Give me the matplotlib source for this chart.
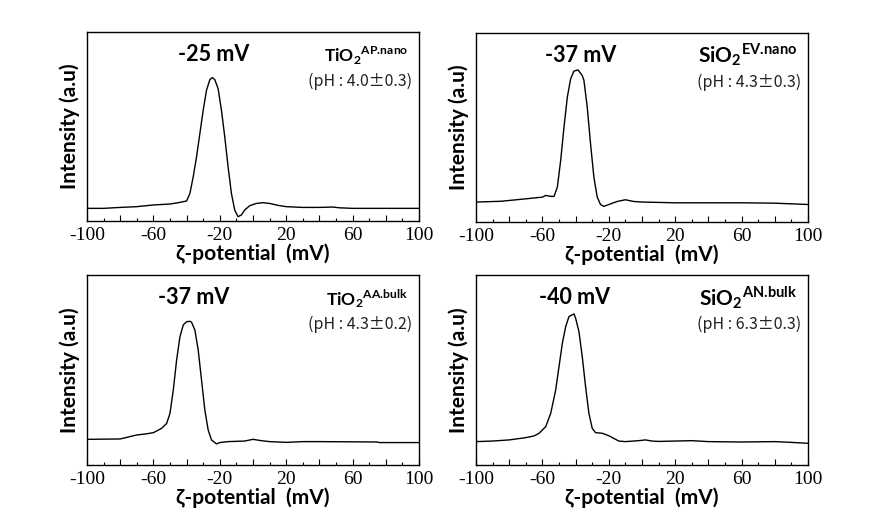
import matplotlib
matplotlib.use("Agg")
import matplotlib.pyplot as plt
from matplotlib.ticker import MultipleLocator, FixedFormatter, FixedLocator

plt.rcParams['axes.unicode_minus'] = False
plt.rcParams['mathtext.fontset'] = 'custom'
plt.rcParams['mathtext.rm'] = 'Lato'
plt.rcParams['mathtext.bf'] = 'Lato:bold'

# zeta potential distributions (intensity in arbitrary units)
x_tio2_nano = [-100, -90, -80, -70, -60, -50, -45, -40, -38, -36, -34, -32, -30, -28, -26,
               -24.5, -23, -21, -19, -17, -15, -13, -11, -9, -7, -5, -2, 2, 6, 10, 15, 20,
               30, 40, 48, 52, 60, 100]
y_tio2_nano = [6.7, 6.7, 7.2, 7.6, 8.5, 9.0, 9.7, 10.6, 14.6, 23.4, 34.0, 46.3, 58.6, 69.2, 74.8,
               75.9, 74.8, 70.0, 58.6, 44.5, 28.7, 14.6, 5.8, 2.3, 3.2, 5.8, 8.1, 9.3, 9.7, 9.3, 8.3, 7.6,
               7.2, 7.2, 7.4, 7.0, 6.7, 6.7]

x_sio2_nano = [-100, -85, -70, -60, -58, -55, -53, -51, -49, -47, -45, -43, -41, -38.5, -36, -35,
               -33, -31, -29, -27, -25, -23, -20, -15, -10, -5, 0, 20, 40, 60, 80, 100]
y_sio2_nano = [10.6, 11.0, 12.3, 13.2, 14.1, 13.6, 13.6, 18.5, 32.6, 50.3, 66.1, 75.8, 79.9, 80.5, 77.5, 75.0,
               60.8, 41.4, 23.8, 13.2, 9.3, 8.3, 9.3, 10.9, 11.8, 10.9, 10.6, 10.2, 10.2, 10.2, 10.0, 9.3]

x_tio2_bulk = [-100, -80, -70, -65, -60, -55, -52, -50, -48, -46, -44, -42, -40, -38, -37, -35,
               -33, -31, -29, -27, -25, -22, -20, -15, -5, 0, 5, 10, 20, 30, 40, 75, 76, 100]
y_tio2_bulk = [13.5, 13.7, 15.8, 16.3, 17.0, 19.3, 21.9, 27.2, 39.5, 55.3, 67.5, 73.7, 75.4, 75.6, 75.1, 71.0,
               60.5, 44.7, 28.9, 18.4, 13.2, 11.1, 11.8, 12.3, 12.6, 13.5, 12.8, 12.3, 11.9, 12.3, 12.3, 12.1, 11.8, 11.8]

x_sio2_bulk = [-100, -90, -80, -70, -65, -62, -58, -55, -52, -50, -48, -46, -44, -41, -40, -38,
               -36, -34, -32, -30, -28, -24, -20, -17, -14, -10, -2, 2, 6, 10, 30, 40, 60, 80, 90, 100]
y_sio2_bulk = [12.3, 12.6, 13.2, 14.4, 15.3, 16.7, 20.2, 27.2, 39.5, 51.8, 64.0, 72.8, 78.1, 79.5, 77.2, 70.2,
               57.0, 41.2, 27.2, 19.3, 17.0, 16.7, 15.4, 14.0, 12.6, 12.3, 12.8, 13.2, 12.6, 12.4, 12.8, 12.3, 12.1, 12.3, 11.9, 11.4]

peak_labels = ['-25 mV', '-37 mV', '-37 mV', '-40 mV']
peak_pos = [-24, -37, -36, -40.5]
samples = [r'$\mathbf{TiO_2}^{\mathbf{AP.\!nano}}$', r'$\mathbf{SiO_2}^{\mathbf{EV.\!nano}}$',
           r'$\mathbf{TiO_2}^{\mathbf{AA.\!bulk}}$', r'$\mathbf{SiO_2}^{\mathbf{AN.\!bulk}}$']
sample_size = [12.5, 15, 12.5, 15]
ph_labels = ['(pH : 4.0\u00b10.3)', '(pH : 4.3\u00b10.3)', '(pH : 4.3\u00b10.2)', '(pH : 6.3\u00b10.3)']

xs = [x_tio2_nano, x_sio2_nano, x_tio2_bulk, x_sio2_bulk]
ys = [y_tio2_nano, y_sio2_nano, y_tio2_bulk, y_sio2_bulk]

fig = plt.figure(figsize=(8.76, 5.25), dpi=100)
boxes = [[0.0993, 0.579, 0.379, 0.36], [0.5434, 0.577, 0.379, 0.36],
         [0.0993, 0.1143, 0.379, 0.362], [0.5434, 0.1143, 0.379, 0.362]]
tick_vals = [-100, -80, -60, -40, -20, 0, 20, 40, 60, 80, 100]
tick_text = ['-100', '', '-60', '', '-20', '', '20', '', '60', '', '100']

for i in range(4):
    ax = fig.add_axes(boxes[i])
    ax.plot(xs[i], ys[i], color='black', lw=1.0)
    ax.set_xlim(-100, 100)
    ax.set_ylim(0, 100)
    ax.set_yticks([])
    ax.xaxis.set_major_locator(FixedLocator(tick_vals))
    ax.xaxis.set_major_formatter(FixedFormatter(tick_text))
    ax.xaxis.set_minor_locator(MultipleLocator(10))
    ax.tick_params(axis='x', which='major', direction='in', length=4, width=0.8, pad=4)
    ax.tick_params(axis='x', which='minor', direction='in', length=2, width=0.8)
    for lab in ax.get_xticklabels():
        lab.set_fontfamily('Liberation Serif')
        lab.set_fontsize(14)
    for s in ax.spines.values():
        s.set_linewidth(1.0)
    ax.set_xlabel('\u03b6-potential  (mV)', fontsize=15, fontweight='bold',
                  family=['Lato', 'DejaVu Sans'], labelpad=0)
    ax.set_ylabel('Intensity (a.u)', fontsize=15, fontweight='bold',
                  family=['Lato', 'DejaVu Sans'], labelpad=5)
    ax.text(peak_pos[i], 88, peak_labels[i], fontsize=15.5, fontweight='bold',
            family='Lato', ha='center', va='center')
    ax.text(93.5, 84, samples[i], fontsize=sample_size[i], ha='right', va='baseline')
    ax.text(96, 74, ph_labels[i], fontsize=11.5, family='Noto Sans CJK KR',
            ha='right', va='center', color='#222222')

fig.savefig('out.png', dpi=100)
